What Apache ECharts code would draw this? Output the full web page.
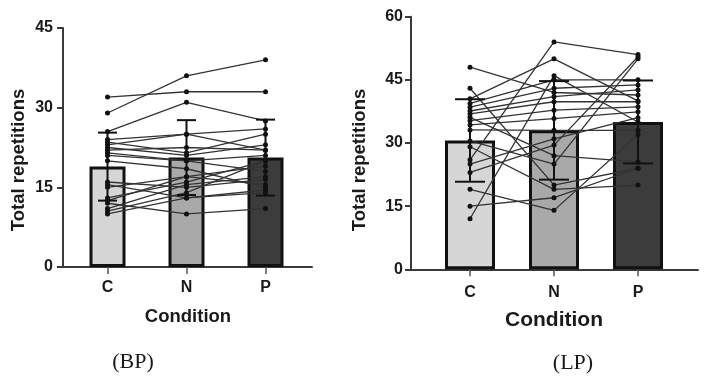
<!DOCTYPE html>
<html><head><meta charset="utf-8">
<script src="https://cdn.jsdelivr.net/npm/echarts@6/dist/echarts.min.js"></script>
<style>html,body{margin:0;padding:0;background:#fff}#c{width:706px;height:381px}</style>
</head><body><div id="c"></div>
<script>
// ---- data ----
const categories = ['C', 'N', 'P'];
const bpTicks = [0, 15, 30, 45];
const lpTicks = [0, 15, 30, 45, 60];

// BP panel: bar means and SD (error bars)
const bpMean = [18.9, 20.6, 20.6];
const bpSD = [6.4, 7.05, 7.15];
// BP individual subjects (one entry per subject)
const bpC = [32, 29, 25.5, 24, 23.5, 23, 22.5, 22, 21.5, 21, 20, 16, 15.5, 15, 13, 12.5, 12, 11, 10.5, 10];
const bpN = [33, 36, 31, 25, 21.5, 25, 21, 22.5, 20, 20, 18.5, 15, 13, 17, 16, 17, 10, 15.5, 14, 13];
const bpP = [33, 39, 27.5, 26, 25, 22, 23, 22, 21, 18, 15, 16.5, 14.5, 15.5, 20, 19, 11, 17, 20, 14];

// LP panel
const lpMean = [30.6, 33.0, 35.0];
const lpSD = [9.8, 11.7, 9.85];
const lpC = [48, 43, 26, 12, 40.5, 39.4, 38.5, 37.6, 36.9, 36.1, 35.3, 34.3, 33.1, 29.1, 23, 19, 15, 30.5, 25];
const lpN = [42, 20, 54, 46, 50, 45, 43, 41, 39.8, 27, 37.8, 35.8, 33, 19, 29.5, 14, 17, 25, 31];
const lpP = [41.4, 24, 51, 35, 40, 45, 43.8, 42.6, 39.8, 25.5, 38.6, 37.4, 33, 20, 50.5, 32, 24, 50, 36];

const barColors = ['#d6d6d6', '#a9a9a9', '#3c3c3c'];

// ---- build ----
const FONT = '"Liberation Sans", Arial, sans-serif';
const grids = [], xAxes = [], yAxes = [], series = [];

function panel(cfg) {
  const outer = grids.length, inner = outer + 1;
  grids.push({left: cfg.axisX, top: cfg.top, width: cfg.axisW, height: cfg.h, outerBoundsMode: 'none', containLabel: false});
  grids.push({left: cfg.innerX, top: cfg.top, width: cfg.innerW, height: cfg.h, outerBoundsMode: 'none', containLabel: false});
  const ymax = cfg.ticks[cfg.ticks.length - 1];
  const interval = cfg.ticks[1] - cfg.ticks[0];
  // outer frame axes
  xAxes.push({gridIndex: outer, type: 'value', min: 0, max: 1,
    axisLine: {show: true, lineStyle: {color: '#3a3a3a', width: 2}},
    axisTick: {show: false}, axisLabel: {show: false}, splitLine: {show: false}});
  yAxes.push({gridIndex: outer, type: 'value', min: cfg.ticks[0], max: ymax, interval: interval,
    axisLine: {show: true, onZero: false, lineStyle: {color: '#3a3a3a', width: 2}},
    axisTick: {show: true, length: 6, lineStyle: {color: '#3a3a3a', width: 2}},
    axisLabel: {show: true, margin: cfg.yLabelMargin, color: '#1a1a1a', fontFamily: FONT, fontWeight: 'bold', fontSize: 16},
    splitLine: {show: false}});
  // inner category axes
  xAxes.push({gridIndex: inner, type: 'category', data: categories, boundaryGap: true,
    axisLine: {show: false},
    axisTick: {show: true, alignWithLabel: true, length: 7, lineStyle: {color: '#555', width: 1.5}},
    axisLabel: {margin: cfg.xLabelMargin, color: '#1a1a1a', fontFamily: FONT, fontWeight: 'bold', fontSize: 16},
    splitLine: {show: false}});
  yAxes.push({gridIndex: inner, type: 'value', min: cfg.ticks[0], max: ymax, interval: interval, show: false});

  series.push({type: 'bar', xAxisIndex: inner, yAxisIndex: inner, barWidth: cfg.barW, z: 1,
    silent: true, animation: false,
    data: cfg.mean.map((v, i) => ({value: v, itemStyle: {color: barColors[i], borderColor: '#111', borderWidth: 3}}))});

  for (let s = 0; s < cfg.c.length; s++) {
    series.push({type: 'line', xAxisIndex: inner, yAxisIndex: inner, z: 3, silent: true, animation: false,
      data: [cfg.c[s], cfg.n[s], cfg.p[s]],
      symbol: 'circle', symbolSize: 5, showSymbol: true,
      lineStyle: {color: '#333', width: 1.3}, itemStyle: {color: '#111'}});
  }

  const half = cfg.capW / 2;
  series.push({type: 'custom', xAxisIndex: inner, yAxisIndex: inner, z: 5, silent: true, animation: false,
    data: cfg.mean.map((m, i) => [i, m, cfg.sd[i]]),
    renderItem: function (params, api) {
      const x = api.value(0), m = api.value(1), s = api.value(2);
      const top = api.coord([x, m + s]);
      const bot = api.coord([x, m - s]);
      const st = {stroke: '#111', lineWidth: 2};
      return {type: 'group', children: [
        {type: 'line', shape: {x1: top[0], y1: top[1], x2: bot[0], y2: bot[1]}, style: st},
        {type: 'line', shape: {x1: top[0] - half, y1: top[1], x2: top[0] + half, y2: top[1]}, style: st},
        {type: 'line', shape: {x1: bot[0] - half, y1: bot[1], x2: bot[0] + half, y2: bot[1]}, style: st}
      ]};
    }});
}

panel({axisX: 63, axisW: 249, innerX: 68, innerW: 237, top: 28, h: 239, ticks: bpTicks,
  mean: bpMean, sd: bpSD, c: bpC, n: bpN, p: bpP, barW: 36, capW: 19, yLabelMargin: 10, xLabelMargin: 13});
panel({axisX: 411, axisW: 287, innerX: 428, innerW: 252, top: 16.7, h: 252.6, ticks: lpTicks,
  mean: lpMean, sd: lpSD, c: lpC, n: lpN, p: lpP, barW: 50, capW: 30, yLabelMargin: 8, xLabelMargin: 15});

function txt(x, y, text, font, rot) {
  return {type: 'text', x: x, y: y, rotation: rot || 0, silent: true,
    style: {text: text, font: font, fill: '#1a1a1a', textAlign: 'center', textVerticalAlign: 'middle'}};
}
const graphic = [
  txt(18.5, 160, 'Total repetitions', 'bold 18.5px ' + FONT, Math.PI / 2),
  txt(360, 160, 'Total repetitions', 'bold 18.5px ' + FONT, Math.PI / 2),
  txt(188, 317, 'Condition', 'bold 18.5px ' + FONT),
  txt(554, 320, 'Condition', 'bold 21px ' + FONT),
  txt(133, 362, '(BP)', '22px "Liberation Serif", "Times New Roman", serif'),
  txt(573, 363, '(LP)', '22px "Liberation Serif", "Times New Roman", serif')
];

const chart = echarts.init(document.getElementById('c'), null, {renderer: 'canvas'});
chart.setOption({animation: false, backgroundColor: '#fff', grid: grids, xAxis: xAxes, yAxis: yAxes, series: series, graphic: graphic});
</script></body></html>
